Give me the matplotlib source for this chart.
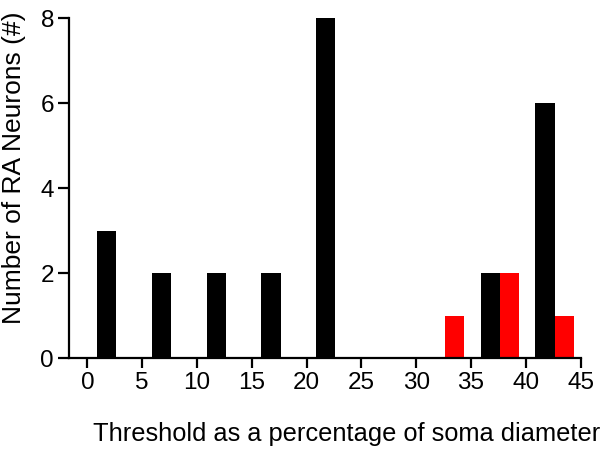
import matplotlib
matplotlib.use("Agg")
import matplotlib.pyplot as plt
import numpy as np

plt.rcParams['font.family'] = ['Liberation Sans', 'DejaVu Sans']

bin_starts = [0, 5, 10, 15, 20, 25, 30, 35, 40]
black_counts = [3, 2, 2, 2, 8, 0, 0, 2, 6]
red_counts = [0, 0, 0, 0, 0, 0, 1, 2, 1]
x_ticks = [0, 5, 10, 15, 20, 25, 30, 35, 40, 45]
y_ticks = [0, 2, 4, 6, 8]

fig = plt.figure(figsize=(6.01, 4.53), dpi=100)
ax = fig.add_axes([0.1153, 0.209, 0.966 - 0.1153, 0.9596 - 0.209])

bs = np.array(bin_starts, dtype=float)
w = 1.75
ax.bar(bs + 1.75, black_counts, width=w, color='black', linewidth=0)
ax.bar(bs + 3.5, red_counts, width=w, color='#ff0000', linewidth=0)

ax.set_xlim(-1.65, 45)
ax.set_ylim(0, 8)
ax.set_xticks(x_ticks)
ax.set_yticks(y_ticks)
for s in ['top', 'right']:
    ax.spines[s].set_visible(False)
for s in ['left', 'bottom']:
    ax.spines[s].set_linewidth(1.6)
ax.tick_params(axis='x', length=7, width=1.6, labelsize=17.5, direction='out', pad=3)
ax.tick_params(axis='y', length=8, width=1.6, labelsize=17.5, direction='out', pad=3)

ax.set_xlabel('Threshold as a percentage of soma diameter', fontsize=18.3)
ax.set_ylabel('Number of RA Neurons (#)', fontsize=19)
ax.xaxis.set_label_coords(0.542, -0.187)
ax.yaxis.set_label_coords(-0.0845, 0.561)

fig.savefig('out.png', dpi=100)
